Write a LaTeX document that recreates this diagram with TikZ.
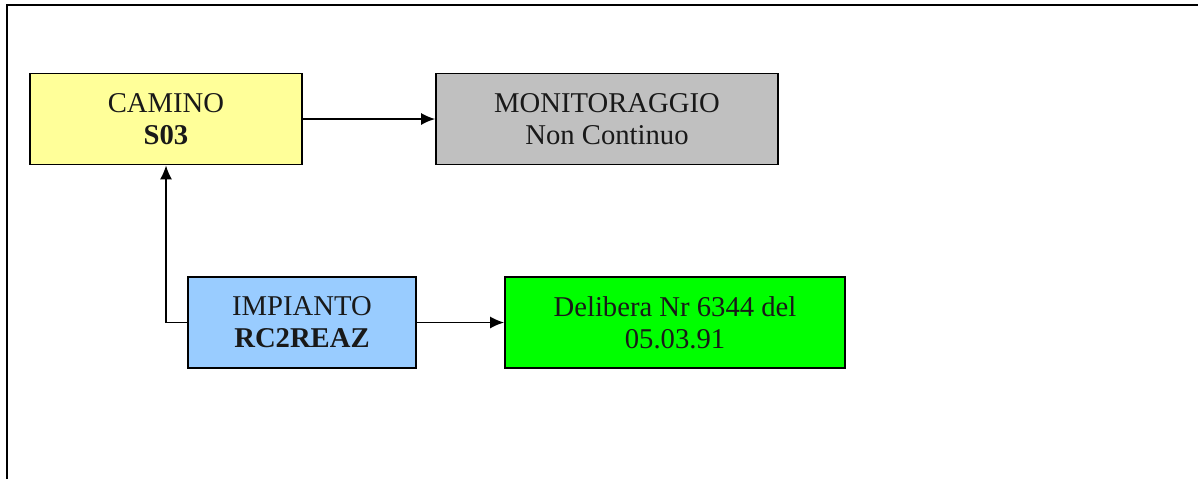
\documentclass[tikz,border=0pt]{standalone}
\usepackage{fontspec}
\setmainfont{Liberation Serif}
\usepackage{xcolor}
\usetikzlibrary{arrows.meta}

\definecolor{caminoyellow}{HTML}{FFFF99}
\definecolor{monitorgray}{HTML}{C0C0C0}
\definecolor{impiantoblue}{HTML}{99CCFF}
\definecolor{deliberagreen}{HTML}{00FF00}

\tikzset{
  block/.style={draw=black, line width=1.3pt, align=center, inner sep=0pt,
    minimum height=68.25pt, font=\fontsize{21.5}{24}\selectfont, text=black!90},
  conn/.style={line width=1.2pt, -{Latex[length=10.5pt, width=9pt]}}
}

\begin{document}
\begin{tikzpicture}[x=0.75pt, y=-0.75pt]
                \useasboundingbox (0,0) rectangle (1198,479);
                \draw[line width=1.6pt] (7,479) -- (7,5) -- (1198,5);
                \node[block, fill=caminoyellow, minimum width=204pt] (camino) at (166,119) {CAMINO\\\textbf{S03}};
                \node[block, fill=monitorgray, minimum width=256.5pt] (monitor) at (607,119) {MONITORAGGIO\\Non Continuo};
                \node[block, fill=impiantoblue, minimum width=171pt] (impianto) at (302,322.5) {IMPIANTO\\\textbf{RC2REAZ}};
                \node[block, fill=deliberagreen, minimum width=255pt] (delibera) at (675,322.5) {Delibera Nr 6344 del\\05.03.91};
                \draw[conn] (camino.east) -- (monitor.west);
                \draw[conn] (impianto.west) -| (camino.south);
                \draw[conn] (impianto.east) -- (delibera.west);
            \end{tikzpicture}
\end{document}
